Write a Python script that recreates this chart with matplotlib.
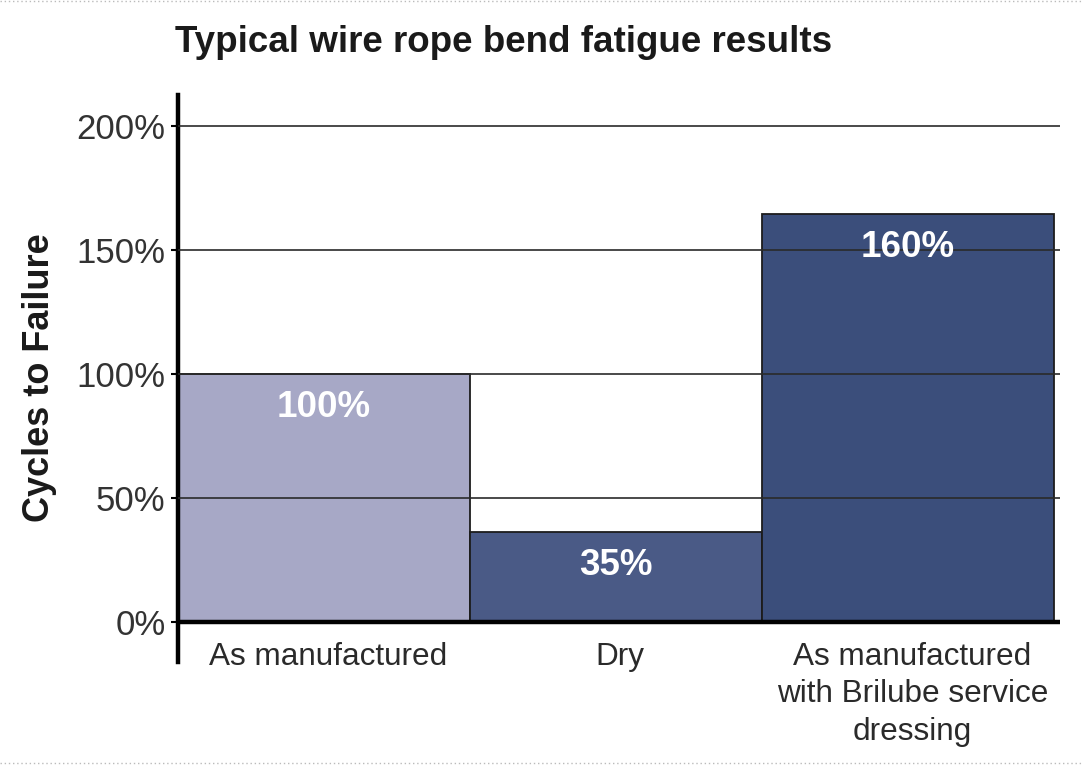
import matplotlib.pyplot as plt
from matplotlib import font_manager
from matplotlib.lines import Line2D

categories = ['As manufactured', 'Dry', 'As manufactured\nwith Brilube service\ndressing']
heights = [100, 36.5, 164.5]
value_labels = ['100%', '35%', '160%']
yticks = [0, 50, 100, 150, 200]
ytick_labels = ['0%', '50%', '100%', '150%', '200%']
colors = ['#a7a8c6', '#4a5a86', '#3b4e7b']

installed = {f.name for f in font_manager.fontManager.ttflist}
narrow = 'Liberation Sans Narrow' in installed
tick_family = ['Liberation Sans Narrow', 'DejaVu Sans'] if narrow else ['Liberation Sans', 'DejaVu Sans']
tick_size = 30 if narrow else 25

plt.rcParams['font.family'] = ['Liberation Sans', 'DejaVu Sans']

fig = plt.figure(figsize=(10.82, 7.66), dpi=100)
fig.patch.set_facecolor('white')
ax = fig.add_axes([178 / 1082, 1 - 662 / 766, 882 / 1082, 567 / 766])

x = [0.5, 1.5, 2.5]
ax.bar(x, heights, width=1.0, color=colors, edgecolor='#1c1c1c', linewidth=1.3, zorder=2)

for y in yticks[1:]:
	ax.axhline(y, color='#2a2a2a', lw=1.2, zorder=3)
ax.axhline(0, color='black', lw=3.2, zorder=4)

for xi, h, lab in zip(x, heights, value_labels):
	ax.annotate(lab, (xi, h), xytext=(0, -24), textcoords='offset points',
		ha='center', va='center', color='white', fontsize=26.5, fontweight='bold', zorder=5)

for xi, cat in zip(x, categories):
	ax.annotate(cat, (xi, 0), xytext=(3, -14), textcoords='offset points',
		ha='center', va='top', color='#2a2a2a', fontsize=22.7, linespacing=1.33,
		annotation_clip=False)

ax.set_xlim(0, 3.02)
ax.set_ylim(-16, 212.5)
ax.set_xticks([])
ax.set_yticks(yticks)
ax.set_yticklabels(ytick_labels, family=tick_family, fontsize=tick_size, color='#333333')
ax.tick_params(axis='y', length=5, width=1.5, pad=4, color='black')

for s in ['top', 'right', 'bottom']:
	ax.spines[s].set_visible(False)
ax.spines['left'].set_linewidth(3.2)
ax.patch.set_alpha(0)

fig.text(175 / 1082, 1 - 42 / 766, 'Typical wire rope bend fatigue results',
	ha='left', va='center', fontsize=26.5, fontweight='bold', color='#1a1a1a')
fig.text(40 / 1082, 1 - 378 / 766, 'Cycles to Failure', rotation=90,
	ha='center', va='center', fontsize=26, fontweight='bold', color='#1a1a1a')

# dotted frame lines at top and bottom edges
fig.add_artist(Line2D([0, 1], [0.999, 0.999], transform=fig.transFigure, color='#bbbbbb', lw=1, ls=(0, (1, 2))))
fig.add_artist(Line2D([0, 1], [0.004, 0.004], transform=fig.transFigure, color='#bbbbbb', lw=1, ls=(0, (1, 2))))

plt.savefig('out.png', dpi=100)
